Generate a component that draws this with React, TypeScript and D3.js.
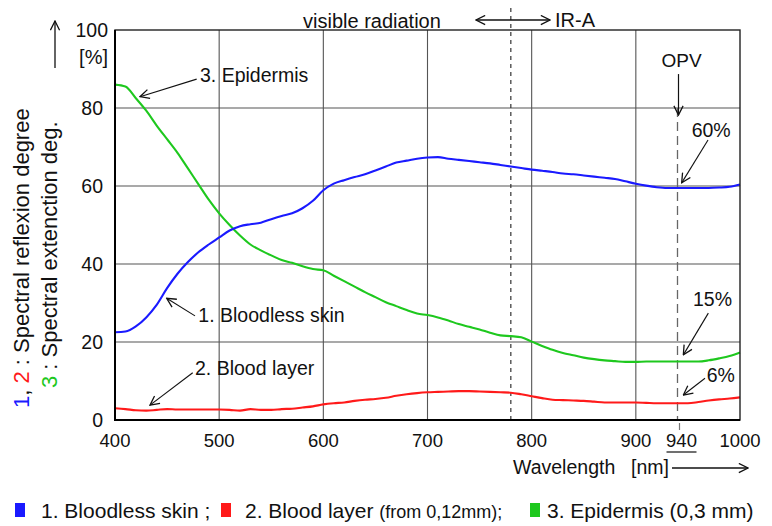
import React from 'react';
import * as d3 from 'd3';

// wavelength samples [nm]
const wavelengths = d3.range(400, 1001, 10);

// 1. bloodless skin (reflexion %)
const bloodlessSkin = [
  22.5, 22.7, 24, 26.3, 29.5, 33.8, 37.5, 40.5, 43, 45,
  46.8, 48.6, 49.7, 50.2, 50.6, 51.5, 52.3, 53, 54.3, 56.2,
  58.9, 60.6, 61.5, 62.3, 63, 64, 65, 66, 66.5, 67,
  67.3, 67.4, 67, 66.7, 66.4, 66.1, 65.8, 65.4, 65, 64.6,
  64.2, 63.9, 63.6, 63.2, 63, 62.7, 62.4, 62.1, 61.8, 61.2,
  60.6, 60.1, 59.7, 59.5, 59.5, 59.5, 59.5, 59.5, 59.6, 59.8,
  60.4,
];

// 2. blood layer (reflexion %)
const bloodLayer = [
  3.0, 2.8, 2.5, 2.4, 2.6, 2.8, 2.7, 2.7, 2.7, 2.7,
  2.7, 2.6, 2.4, 2.8, 2.6, 2.6, 2.8, 2.9, 3.2, 3.5,
  4.0, 4.3, 4.5, 4.9, 5.2, 5.4, 5.7, 6.2, 6.6, 6.9,
  7.1, 7.2, 7.3, 7.4, 7.4, 7.3, 7.2, 7.1, 7.0, 6.6,
  6.1, 5.6, 5.2, 5.1, 5.0, 4.9, 4.7, 4.5, 4.5, 4.5,
  4.5, 4.4, 4.3, 4.3, 4.3, 4.3, 4.6, 5.0, 5.3, 5.5,
  5.8,
];

// 3. epidermis (extinction %)
const epidermis = [
  86, 85.5, 82.5, 79.3, 75.5, 72, 68.5, 64.5, 60.5, 56.5,
  53, 50, 47.3, 45, 43.5, 42.2, 41, 40.3, 39.4, 38.7,
  38.4, 37, 35.6, 34.2, 32.8, 31.5, 30.2, 29.2, 28.2, 27.3,
  26.9, 26.3, 25.5, 24.6, 23.9, 23.2, 22.4, 21.7, 21.5, 21.2,
  20.1, 19, 18, 17.2, 16.6, 16, 15.6, 15.3, 15.1, 14.9,
  14.9, 15, 15, 15, 15, 15, 15, 15.3, 15.8, 16.4,
  17.3,
];

const xTicks = [400, 500, 600, 700, 800, 900, 1000];
const yTicks = [0, 20, 40, 60, 80];
const irBoundary = 780;
const opvWavelength = 940;

// annotation texts and arrows in data units: [label, textX, textY, fromX, fromY, toX, toY]
const curveNotes: [string, number, number, number, number, number, number][] = [
  ['3. Epidermis', 481.6, 86.7, 478.4, 87.4, 424, 82.9],
  ['1. Bloodless skin', 480, 25.2, 476.8, 26.7, 449.6, 31.2],
  ['2. Blood layer', 476.8, 11.5, 474.6, 12.1, 433.6, 3.8],
  ['60%', 953.6, 72.6, 969.3, 71.8, 944, 60.8],
  ['15%', 954.9, 29.2, 969.6, 27.4, 945.6, 16.7],
  ['6%', 968, 9.8, 966.4, 10.7, 945.6, 6.4],
];

const BLUE = '#1a1aff';
const RED = '#ff1a1a';
const GREEN = '#1ec81e';
const FONT = '"Liberation Sans", Arial, Helvetica, sans-serif';

export default function App() {
  const width = 772;
  const height = 526;
  const left = 115;
  const right = 740;
  const top = 30;
  const bottom = 420;

  const x = d3.scaleLinear().domain([400, 1000]).range([left, right]);
  const y = d3.scaleLinear().domain([0, 100]).range([bottom, top]);

  const line = d3
    .line<number>()
    .x((_, i) => x(wavelengths[i]))
    .y(d => y(d))
    .curve(d3.curveMonotoneX);

  const series = [
    { values: bloodLayer, color: RED },
    { values: epidermis, color: GREEN },
    { values: bloodlessSkin, color: BLUE },
  ];

  return (
    <svg
      width={width}
      height={height}
      style={{ position: 'absolute', left: 0, top: 0, background: '#fff' }}
      fontFamily={FONT}
    >
      <defs>
        <marker
          id="arr"
          viewBox="0 0 12 12"
          refX="11"
          refY="6"
          markerWidth="11"
          markerHeight="11"
          markerUnits="userSpaceOnUse"
          orient="auto-start-reverse"
        >
          <path d="M1,1 L11,6 L1,11" fill="none" stroke="#111" strokeWidth="1.4" />
        </marker>
      </defs>

      {/* grid */}
      {xTicks.slice(1, -1).map(t => (
        <line key={'gx' + t} x1={x(t)} x2={x(t)} y1={top} y2={bottom} stroke="#555" strokeWidth={1.1} />
      ))}
      {yTicks.slice(1).map(t => (
        <line key={'gy' + t} x1={left} x2={right} y1={y(t)} y2={y(t)} stroke="#555" strokeWidth={1.1} />
      ))}

      {/* IR boundary and OPV marker */}
      <line x1={x(irBoundary)} x2={x(irBoundary)} y1={8} y2={bottom} stroke="#333" strokeWidth={1.2} strokeDasharray="4 4" />
      <line x1={x(opvWavelength)} x2={x(opvWavelength)} y1={y(80)} y2={bottom} stroke="#666" strokeWidth={1.3} strokeDasharray="9 5" />

      {/* curves */}
      {series.map((s, i) => (
        <path key={i} d={line(s.values) as string} fill="none" stroke={s.color} strokeWidth={2.1} strokeLinejoin="round" />
      ))}

      {/* frame */}
      <rect x={left} y={top} width={right - left} height={bottom - top} fill="none" stroke="#222" strokeWidth={1.4} />
      <line x1={left} x2={left} y1={top} y2={bottom + 1} stroke="#000" strokeWidth={2} />
      <line x1={left - 1} x2={right} y1={bottom} y2={bottom} stroke="#000" strokeWidth={2} />

      {/* y tick labels */}
      {yTicks.map(t => (
        <text key={'yl' + t} x={103} y={y(t) + 7} textAnchor="end" fontSize={19.5} fill="#111">
          {t}
        </text>
      ))}
      <text x={108} y={37} textAnchor="end" fontSize={19.5} fill="#111">100</text>
      <text x={108} y={64} textAnchor="end" fontSize={20} fill="#111">[%]</text>
      <line x1={55} x2={55} y1={68} y2={21} stroke="#111" strokeWidth={1.3} markerEnd="url(#arr)" />

      {/* y title */}
      <text transform="translate(29,408) rotate(-90)" fontSize={22} fill="#111">
        <tspan fill={BLUE}>1</tspan>
        <tspan>, </tspan>
        <tspan fill={RED}>2</tspan>
        <tspan> : Spectral reflexion degree</tspan>
      </text>
      <text transform="translate(57,388) rotate(-90)" fontSize={22} fill="#111">
        <tspan fill={GREEN}>3</tspan>
        <tspan> : Spectral extenction deg.</tspan>
      </text>

      {/* x tick labels */}
      {xTicks.map(t => (
        <text key={'xl' + t} x={x(t)} y={447} textAnchor="middle" fontSize={18.5} fill="#111">
          {t}
        </text>
      ))}
      <text x={x(opvWavelength) + 4} y={447} textAnchor="middle" fontSize={18.5} fill="#111">
        {opvWavelength}
      </text>
      <line x1={x(opvWavelength) - 11} x2={x(opvWavelength) + 19} y1={452} y2={452} stroke="#111" strokeWidth={1.2} />
      <line x1={x(opvWavelength) + 2} x2={x(opvWavelength) + 2} y1={423} y2={430} stroke="#777" strokeWidth={1.2} />

      {/* x title */}
      <text x={513} y={474} fontSize={19.5} fill="#111">Wavelength</text>
      <text x={631} y={474} fontSize={19.5} fill="#111">[nm]</text>
      <line x1={672} x2={748} y1={468} y2={468} stroke="#111" strokeWidth={1.3} markerEnd="url(#arr)" />

      {/* region labels */}
      <text x={303} y={28} fontSize={20} fill="#111">visible radiation</text>
      <line x1={476} x2={550} y1={20} y2={20} stroke="#111" strokeWidth={1.3} markerStart="url(#arr)" markerEnd="url(#arr)" />
      <text x={555} y={27} fontSize={20} fill="#111">IR-A</text>

      {/* OPV */}
      <text x={x(opvWavelength) + 4} y={y(90.5)} textAnchor="middle" fontSize={19} fill="#111">OPV</text>
      <line x1={x(opvWavelength) + 1} x2={x(opvWavelength) + 1} y1={y(88.7)} y2={y(78.2)} stroke="#111" strokeWidth={1.2} markerEnd="url(#arr)" />

      {/* curve notes */}
      {curveNotes.map(([label, tx, ty, fx, fy, ex, ey]) => (
        <g key={label}>
          <line x1={x(fx)} y1={y(fy)} x2={x(ex)} y2={y(ey)} stroke="#111" strokeWidth={1.1} markerEnd="url(#arr)" />
          <text x={x(tx)} y={y(ty)} fontSize={19.5} fill="#111">{label}</text>
        </g>
      ))}

      {/* legend */}
      <rect x={15} y={503} width={10} height={14} fill={BLUE} />
      <text x={41} y={518} fontSize={21} fill="#111">1. Bloodless skin ;</text>
      <rect x={221} y={503} width={10} height={14} fill={RED} />
      <text x={245} y={518} fontSize={21} fill="#111">
        2. Blood layer <tspan fontSize={18}>(from 0,12mm);</tspan>
      </text>
      <rect x={530} y={503} width={10} height={14} fill={GREEN} />
      <text x={547} y={518} fontSize={21} fill="#111">3. Epidermis (0,3 mm)</text>
    </svg>
  );
}
